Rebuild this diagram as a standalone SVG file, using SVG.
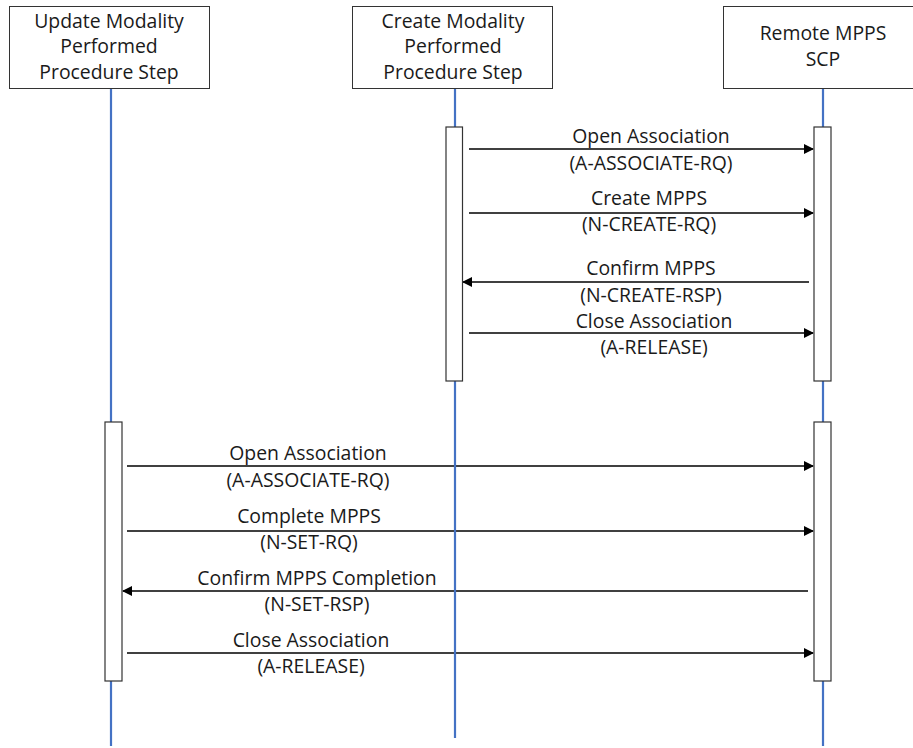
<svg xmlns="http://www.w3.org/2000/svg" width="913" height="748" viewBox="0 0 913 748">
<style>
.hdr{fill:#fff;stroke:#333;stroke-width:1}
.life{stroke:#4472C4;stroke-width:2.2;fill:none}
.act{fill:#fff;stroke:#333;stroke-width:1.2}
.msg{stroke:#000;stroke-width:1.3;fill:none;marker-end:url(#ah)}
text{font-family:"Open Sans","Noto Sans","Liberation Sans",sans-serif;font-size:19.4px;fill:#1a1a1a;text-anchor:middle}
</style>
<defs>
<marker id="ah" markerWidth="10" markerHeight="10" refX="9" refY="5" orient="auto" markerUnits="userSpaceOnUse">
<path d="M0,0 L10,5 L0,10 Z" fill="#000"/>
</marker>
</defs>
<g id="connectors">
<line class="msg" x1="469" y1="149" x2="813" y2="149"/>
<line class="msg" x1="469" y1="213" x2="813" y2="213"/>
<line class="msg" x1="809" y1="282" x2="463" y2="282"/>
<line class="msg" x1="469" y1="333" x2="813" y2="333"/>
<line class="msg" x1="127" y1="466" x2="813" y2="466"/>
<line class="msg" x1="127" y1="531" x2="813" y2="531"/>
<line class="msg" x1="808" y1="591" x2="123" y2="591"/>
<line class="msg" x1="127" y1="653" x2="813" y2="653"/>
</g>
<g id="labels">
<text x="651" y="143">Open Association</text>
<text x="651" y="170">(A-ASSOCIATE-RQ)</text>
<text x="649" y="205">Create MPPS</text>
<text x="649" y="231">(N-CREATE-RQ)</text>
<text x="651" y="275">Confirm MPPS</text>
<text x="651" y="302">(N-CREATE-RSP)</text>
<text x="654" y="328">Close Association</text>
<text x="654" y="354">(A-RELEASE)</text>
<text x="308" y="460">Open Association</text>
<text x="308" y="487">(A-ASSOCIATE-RQ)</text>
<text x="309" y="523">Complete MPPS</text>
<text x="309" y="549">(N-SET-RQ)</text>
<text x="317" y="585">Confirm MPPS Completion</text>
<text x="317" y="611">(N-SET-RSP)</text>
<text x="311" y="647">Close Association</text>
<text x="311" y="673">(A-RELEASE)</text>
</g>
<g id="lifelines">
<line class="life" x1="111" y1="88" x2="111" y2="746"/>
<line class="life" x1="455" y1="88" x2="455" y2="738"/>
<line class="life" x1="823" y1="88" x2="823" y2="746"/>
</g>
<g id="node-update">
<rect class="hdr" x="9.5" y="6.5" width="200" height="82"/>
<text x="109" y="28">Update Modality</text>
<text x="109" y="53">Performed</text>
<text x="109" y="79">Procedure Step</text>
</g>
<g id="node-create">
<rect class="hdr" x="352.5" y="6.5" width="200" height="82"/>
<text x="453" y="28">Create Modality</text>
<text x="453" y="53">Performed</text>
<text x="453" y="79">Procedure Step</text>
</g>
<g id="node-remote">
<rect class="hdr" x="723.5" y="6.5" width="200" height="82"/>
<text x="823" y="40">Remote MPPS</text>
<text x="823" y="66">SCP</text>
</g>
<g id="activations">
<rect class="act" x="446" y="127" width="16.5" height="254"/>
<rect class="act" x="814" y="127" width="17" height="254"/>
<rect class="act" x="105" y="422" width="17" height="259"/>
<rect class="act" x="814" y="422" width="17" height="259"/>
</g>
</svg>
